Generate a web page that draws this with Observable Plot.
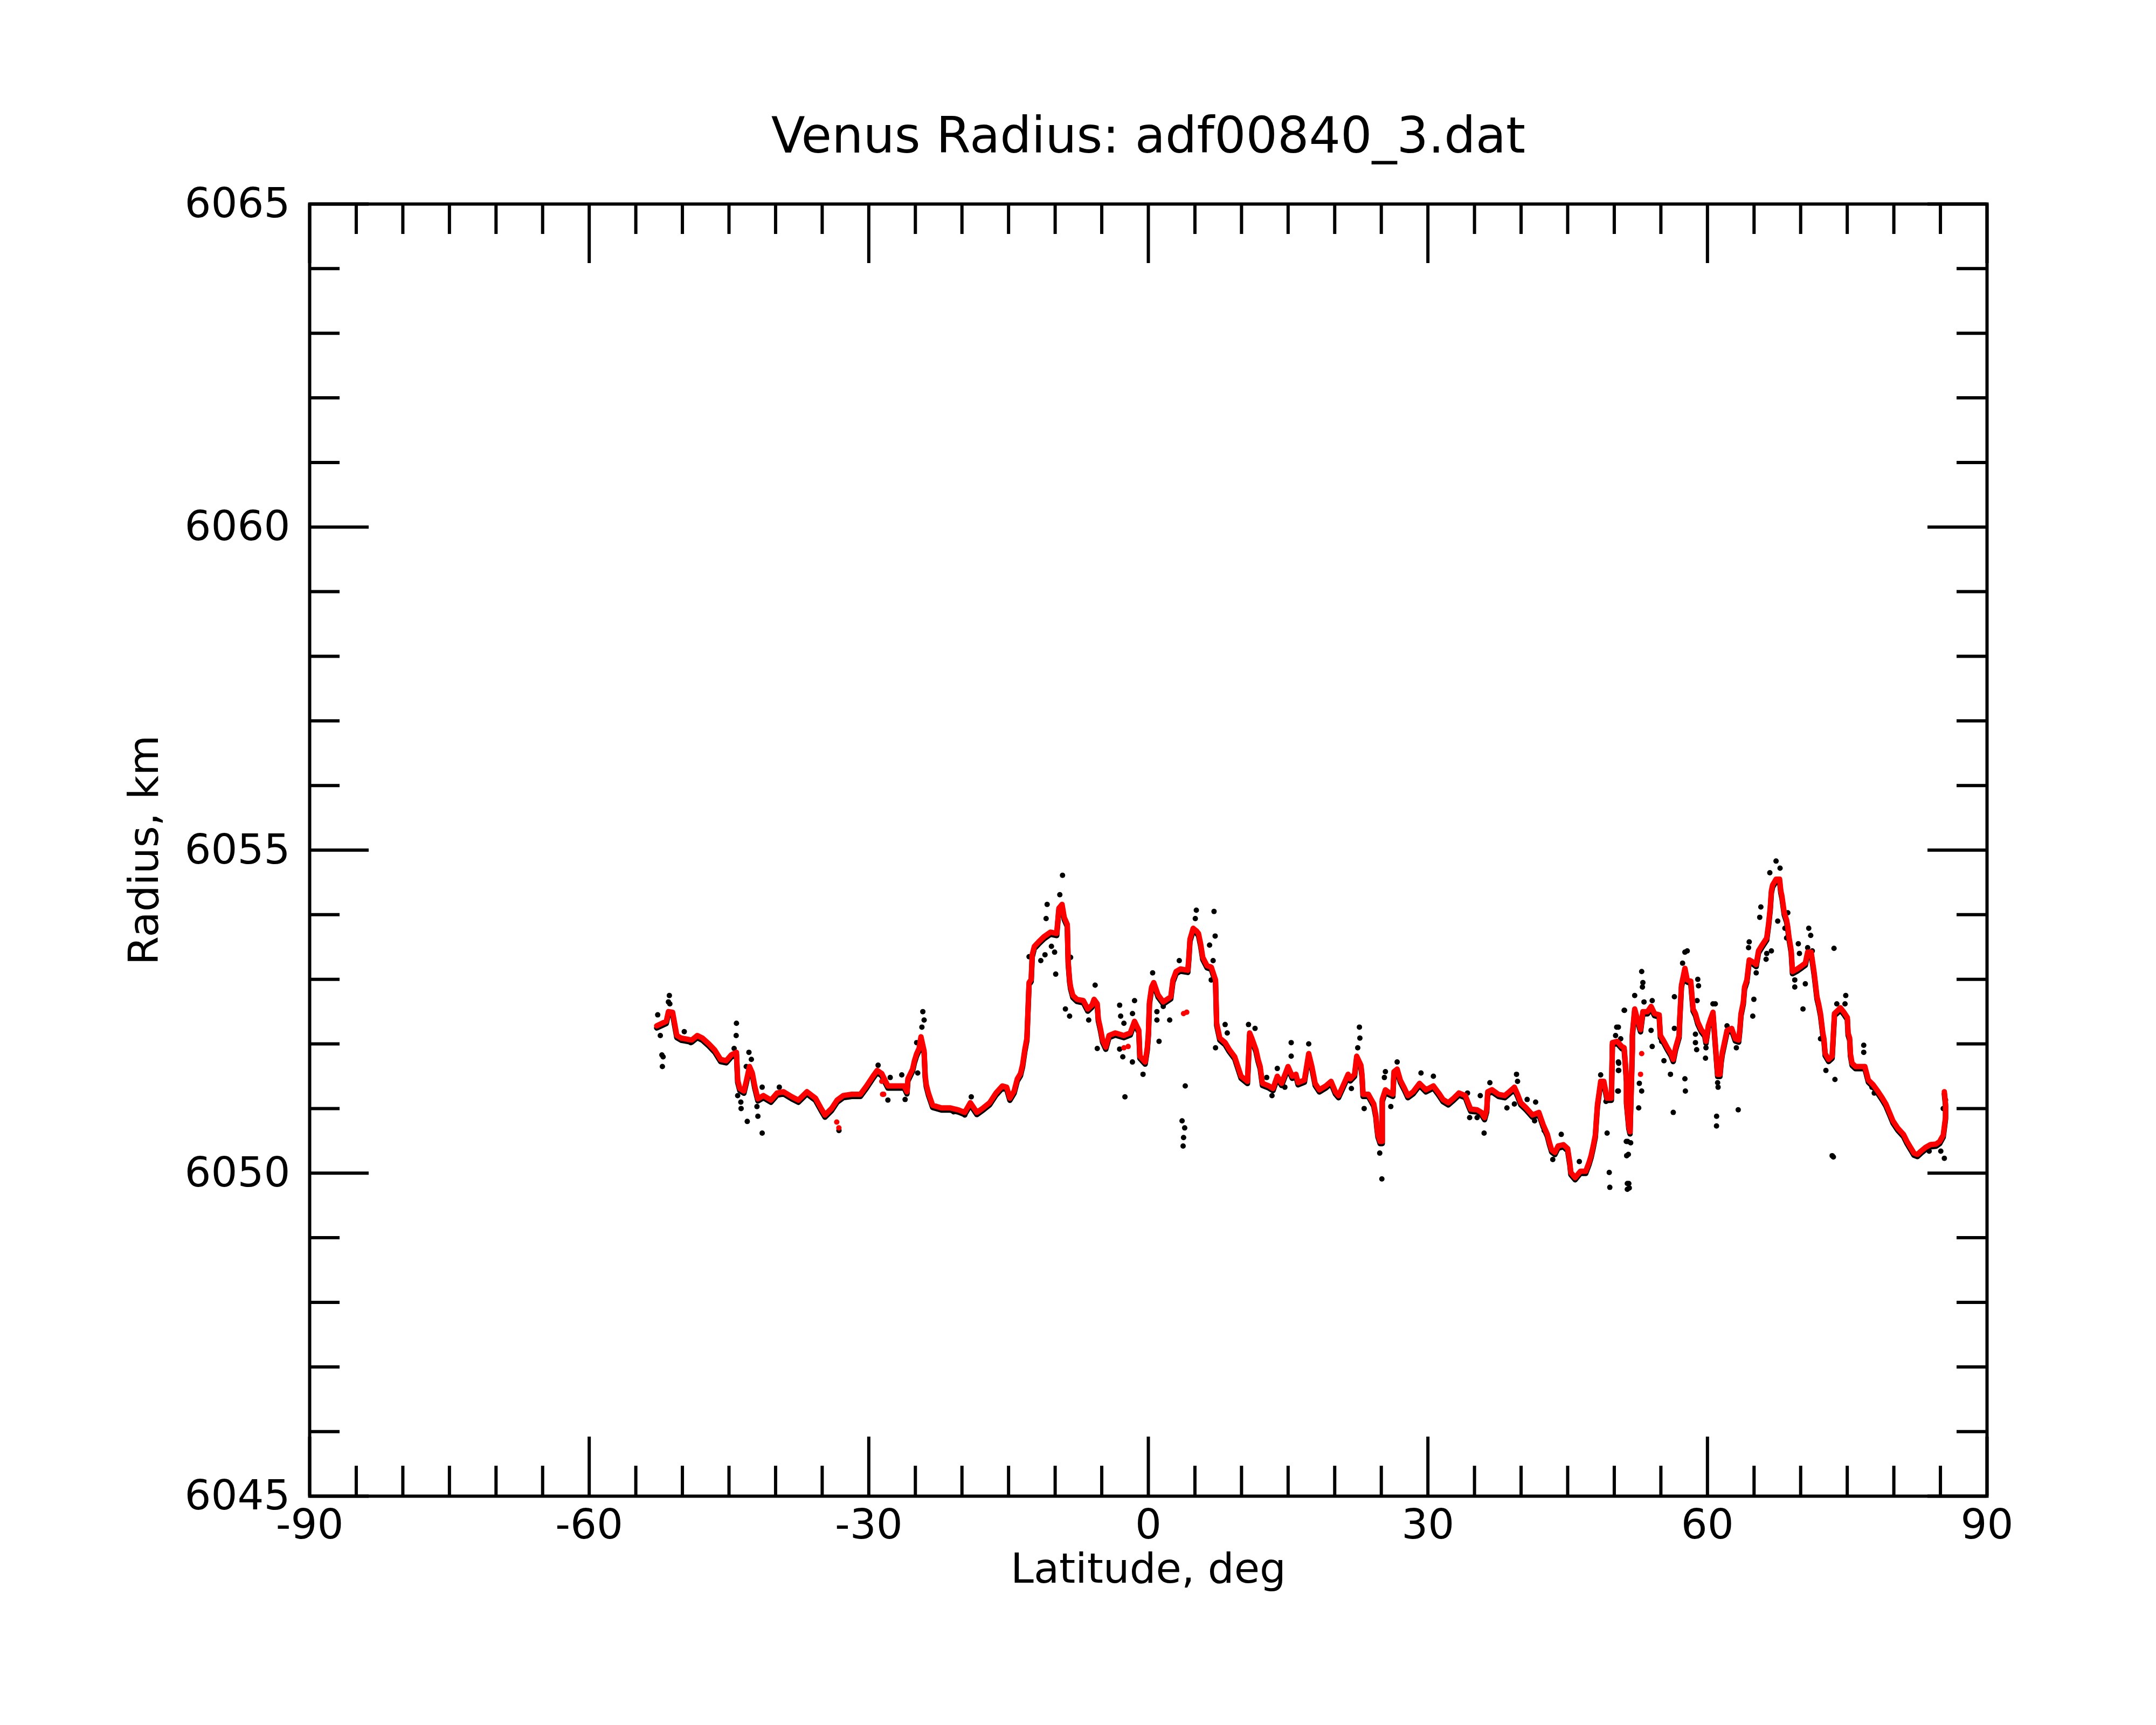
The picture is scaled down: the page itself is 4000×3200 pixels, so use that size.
<!DOCTYPE html>
<html>
<head>
<meta charset="utf-8">
<script src="https://cdn.jsdelivr.net/npm/d3@7"></script>
<script src="https://cdn.jsdelivr.net/npm/@observablehq/plot@0.6"></script>
<style>
  html, body { margin: 0; padding: 0; background: white; }
</style>
</head>
<body>
<div id="chart"></div>
<script>
const titleText = "Venus Radius: adf00840_3.dat";
const xLabel = "Latitude, deg";
const yLabel = "Radius, km";
const xMajor = [-90, -60, -30, 0, 30, 60, 90];
const xMinor = [-85,-80,-75,-70,-65,-55,-50,-45,-40,-35,-25,-20,-15,-10,-5,5,10,15,20,25,35,40,45,50,55,65,70,75,80,85];
const yMajor = [6045, 6050, 6055, 6060, 6065];
const yMinor = [6046,6047,6048,6049,6051,6052,6053,6054,6056,6057,6058,6059,6061,6062,6063,6064];

// smoothed radius (red)
const redLat = [-52.76,-51.73,-51.5,-51.05,-50.6,-50.13,-49.0,-48.4,-47.85,-47.16,-46.5,-45.9,-45.3,-44.76,-44.2,
-44.07,-43.84,-43.4,-43.15,-42.8,-42.5,-42.24,-41.9,-41.3,-40.5,-39.84,-39.15,-38.24,-37.55,-36.64,-35.72,-35.15,-34.7,-34.0,-33.4,-32.75,-31.83,-30.9,-30.24,-29.55,-29.1,-28.6,-27.95,-27.0,-26.2,-25.9,-25.8,-25.3,-25.1,-24.86,-24.6,-24.4,-24.06,-23.95,-23.83,-23.6,-23.15,-22.2,-21.3,-20.4,-19.7,-19.1,
-18.4,-17.72,-17.03,-16.35,-15.66,-15.2,-14.86,-14.4,-14.06,-13.72,-13.49,-13.26,-13.03,-12.8,-12.57,-12.46,-12.23,-11.77,-11.2,-10.5,-9.83,-9.78,-9.6,-9.26,-9.03,-8.7,-8.6,-8.45,-8.34,-8.1,-7.66,-6.97,-6.5,-6.05,-5.82,-5.48,-5.37,-5.14,-4.91,-4.57,-4.22,-3.54,-2.62,-1.94,-1.48,-1.02,-0.91,-0.34,-0.11,0.01,0.12,0.35,0.58,1.04,1.6,2.41,2.64,2.98,3.44,4.24,4.35,4.47,4.81,5.15,5.38,5.61,5.84,6.3,6.75,7.21,7.33,7.67,8.24,8.7,9.27,9.61,9.95,10.64,10.87,11.1,11.55,11.78,12.0,12.24,12.93,13.38,13.84,14.3,14.99,15.44,
15.84,16.07,16.75,17.21,17.55,17.9,18.35,19.04,19.61,20.07,20.41,20.76,21.44,21.67,22.13,22.36,22.81,22.93,23.04,23.61,24.19,24.41,24.53,24.64,24.87,25.1,25.1,25.44,25.8,26.24,26.36,26.7,27.04,27.5,27.85,28.42,29.1,29.79,30.59,31.16,31.62,32.19,32.76,33.33,34.02,34.36,34.59,35.28,35.74,36.08,36.31,36.42,36.88,37.57,38.25,38.82,39.28,39.62,39.97,40.54,41.22,41.91,42.37,42.82,43.05,43.28,43.63,43.97,44.54,45.0,45.11,45.23,45.34,45.8,46.37,46.94,47.28,47.51,47.74,47.97,48.08,48.2,48.31,48.54,48.88,49.23,49.69,49.8,50.31,50.81,51.06,51.19,51.31,51.31,51.56,51.69,51.94,51.94,52.19,52.57,52.82,53.07,53.57,53.95,54.32,54.82,54.95,55.33,55.7,56.08,56.33,56.58,56.96,57.03,57.21,57.58,57.83,58.21,58.33,58.46,58.71,58.96,59.34,59.71,59.84,60.09,60.34,60.59,61.09,61.34,61.47,61.6,61.85,62.1,62.6,62.98,63.35,63.48,63.6,63.85,63.98,64.23,64.48,64.86,65.23,65.48,65.86,66.36,66.56,66.74,66.86,66.99,67.36,67.74,67.87,67.99,68.24,68.49,68.62,68.74,68.87,68.99,69.12,69.62,70.12,70.5,70.75,71.13,71.45,71.63,71.75,71.93,72.13,72.38,72.5,72.63,73.0,73.38,73.63,74.0,74.26,74.64,75.01,75.09,75.26,75.34,75.52,75.89,76.39,76.89,77.27,77.77,78.27,78.78,79.15,79.53,79.9,80.4,81.03,81.41,81.78,82.16,82.53,82.91,83.41,83.92,84.54,84.92,85.3,85.42,85.55,85.55,85.42];
const redRad = [6052.28,6052.35,6052.50,6052.49,6052.13,6052.09,6052.06,6052.13,6052.09,6052.00,6051.90,6051.76,6051.74,6051.83,6051.87,
6051.44,6051.31,6051.27,6051.42,6051.65,6051.55,6051.35,6051.15,6051.20,6051.13,6051.24,6051.26,6051.18,6051.13,6051.26,6051.16,6051.01,6050.90,6051.00,6051.13,6051.20,6051.22,6051.22,6051.35,6051.50,6051.59,6051.54,6051.35,6051.35,6051.35,6051.26,6051.46,6051.61,6051.74,6051.85,6051.93,6052.11,6051.89,6051.52,6051.37,6051.24,6051.05,6051.01,6051.01,6050.98,6050.94,6051.09,
6050.94,6051.01,6051.09,6051.24,6051.35,6051.33,6051.16,6051.27,6051.46,6051.54,6051.68,6051.91,6052.09,6052.95,6053.00,6053.38,6053.51,6053.58,6053.66,6053.73,6053.71,6053.80,6054.10,6054.16,6053.96,6053.85,6053.27,6052.99,6052.88,6052.75,6052.69,6052.67,6052.54,6052.60,6052.69,6052.62,6052.39,6052.24,6052.06,6051.95,6052.13,6052.17,6052.13,6052.17,6052.35,6052.21,6051.81,6051.72,6051.94,6052.17,6052.65,6052.88,6052.95,6052.76,6052.65,6052.73,6052.99,6053.12,6053.16,6053.14,6053.34,6053.62,6053.79,6053.75,6053.71,6053.55,6053.34,6053.21,6053.19,6052.99,6052.32,6052.09,6052.02,6051.91,6051.80,6051.65,6051.50,6051.42,6052.17,6052.09,6051.91,6051.76,6051.65,6051.39,6051.35,6051.31,6051.50,6051.39,6051.65,6051.50,
6051.53,6051.40,6051.44,6051.85,6051.65,6051.39,6051.29,6051.35,6051.42,6051.26,6051.20,6051.31,6051.53,6051.46,6051.53,6051.81,6051.67,6051.52,6051.22,6051.22,6051.07,6050.90,6050.72,6050.59,6050.49,6050.49,6051.14,6051.29,6051.25,6051.22,6051.57,6051.61,6051.44,6051.31,6051.20,6051.26,6051.39,6051.29,6051.35,6051.24,6051.14,6051.09,6051.16,6051.24,6051.20,6051.07,6050.99,6050.98,6050.94,6050.86,6050.98,6051.26,6051.29,6051.22,6051.20,6051.27,6051.33,6051.22,6051.09,6051.01,6050.90,6050.94,6050.75,6050.60,6050.47,6050.36,6050.32,6050.42,6050.44,6050.38,6050.27,6050.16,6050.01,6049.93,6050.03,6050.03,6050.16,6050.27,6050.42,6050.59,6050.83,6051.07,6051.18,6051.42,6051.42,6051.16,6051.16,6052.02,6052.04,6051.96,6051.94,6051.70,6051.44,6051.11,6050.72,6050.64,6051.94,6052.15,6052.54,6052.34,6052.22,6052.50,6052.50,6052.58,6052.47,6052.45,6052.13,6052.04,6051.94,6051.85,6051.76,6051.94,6052.13,6052.41,6052.91,6053.17,6052.99,6052.97,6052.76,6052.54,6052.47,6052.34,6052.22,6052.15,6052.04,6052.28,6052.39,6052.49,6051.53,6051.53,6051.74,6051.87,6052.04,6052.21,6052.24,6052.08,6052.06,6052.24,6052.47,6052.65,6052.88,6052.99,6053.30,6053.27,6053.23,6053.44,6053.53,6053.64,6053.86,6054.11,6054.37,6054.46,6054.55,6054.55,6054.37,6054.29,6054.03,6053.92,6053.81,6053.66,6053.55,6053.44,6053.12,6053.16,6053.21,6053.25,6053.42,6053.42,6053.10,6052.88,6052.73,6052.62,6052.47,6052.17,6052.08,6051.85,6051.76,6051.81,6052.47,6052.52,6052.56,6052.49,6052.41,6052.17,6052.09,6051.85,6051.70,6051.65,6051.65,6051.65,6051.44,6051.37,6051.27,6051.16,6051.07,6050.94,6050.81,6050.70,6050.60,6050.49,6050.40,6050.31,6050.29,6050.34,6050.40,6050.44,6050.45,6050.49,6050.59,6050.72,6050.87,6051.07,6051.26];

// isolated smoothed points (red)
const redExtraLat = [-33.44,-33.21,-28.6,-28.52,-28.4,-2.62,-2.17,3.78,4.12,52.82,52.94];
const redExtraRad = [6050.79,6050.70,6051.42,6051.22,6051.22,6051.94,6051.96,6052.47,6052.49,6051.53,6051.85];

// raw radius points away from the smoothed curve (black)
const rawLat = [-52.65,-52.37,-52.2,-52.07,-52.15,-51.4,-51.5,-51.35,-49.8,-49.1,-44.2,-44.23,-44.45,-44.07,-43.73,-43.7,-43.04,-42.86,-42.6,-43.15,-42.0,-41.9,-41.44,-41.44,-39.6,-33.2,-29.0,-27.95,-27.7,-26.46,-26.1,-24.86,-24.75,-24.2,-24.06,-24.3,-19.0,-19.7,-20.9,
-9.21,-9.5,-10.86,-10.97,-11.09,-11.54,-12.8,-10.4,-10.06,-9.94,-8.9,-8.45,-8.34,-5.71,-6.4,-5.48,-3.08,-1.48,-1.7,-2.97,-2.62,-2.74,-3.08,-1.71,-2.51,-0.57,0.46,0.92,0.92,2.29,1.6,1.15,3.32,5.15,5.04,7.05,7.17,6.57,6.95,6.75,3.96,3.62,3.9,3.78,3.73,8.24,8.47,7.21,10.75,11.45,12.7,13.27,13.84,14.65,15.33,15.33,
17.21,22.65,22.7,22.47,21.79,23.16,24.83,25.06,25.44,25.33,26.02,26.7,29.26,30.59,34.25,34.48,35.28,36.03,35.62,36.65,38.48,39.51,39.62,39.28,40.65,41.56,41.45,42.48,44.31,43.4,46.25,48.54,49.11,49.23,49.46,49.52,51.1,50.26,50.14,50.48,50.48,50.37,51.29,51.33,51.4,51.4,
51.06,50.44,50.69,50.44,50.44,50.44,51.44,51.76,51.51,51.56,51.61,52.19,52.94,53.07,53.02,53.19,54.07,53.95,54.07,52.69,52.94,52.62,55.08,55.33,56.03,56.33,56.45,56.45,57.58,57.63,57.83,57.58,57.33,58.96,59.04,58.89,58.71,58.71,58.84,59.84,59.79,60.59,60.84,61.09,61.14,60.98,60.97,62.1,63.1,63.3,64.41,64.48,65.23,64.98,64.86,65.73,65.61,66.36,66.86,66.29,66.69,67.36,67.79,67.54,68.31,68.62,68.49,69.37,69.37,69.75,69.87,70.5,70.25,70.87,71.08,71.25,70.75,73.58,72.13,72.71,73.68,73.38,73.51,74.84,73.88,74.76,76.77,76.77,77.65,77.9,83.79,85.04,85.42,85.55,85.3,84.04];
const rawRad = [6052.45,6052.13,6051.83,6051.80,6051.65,6052.75,6052.65,6052.62,6052.19,6052.02,6052.32,6052.13,6051.93,6051.20,6051.10,6051.00,6050.80,6051.87,6051.76,6051.65,6051.03,6050.88,6050.62,6051.33,6051.33,6050.66,6051.67,6051.13,6051.48,6051.52,6051.14,6052.02,6051.55,6052.50,6052.37,6052.26,6051.18,6050.90,6050.95,
6054.61,6054.31,6054.16,6053.94,6053.38,6053.29,6053.35,6053.51,6053.42,6053.08,6052.54,6052.43,6053.34,6052.91,6052.37,6051.93,6052.60,6052.67,6052.47,6052.43,6052.32,6051.80,6051.92,6051.72,6051.18,6051.53,6053.10,6052.50,6052.37,6052.37,6052.58,6052.04,6053.29,6054.07,6053.94,6054.05,6053.67,6053.53,6053.29,6052.99,6051.35,6050.81,6050.70,6050.55,6050.42,6052.30,6052.17,6051.94,6052.30,6052.24,6051.48,6051.20,6051.62,6051.33,6052.02,6051.81,
6052.00,6052.26,6052.09,6051.94,6051.31,6051.00,6050.31,6049.91,6051.57,6051.48,6051.03,6051.72,6051.55,6051.50,6051.24,6050.86,6050.86,6050.62,6051.20,6051.40,6051.01,6051.53,6051.42,6051.07,6051.14,6051.10,6050.81,6050.66,6050.60,6050.21,6050.18,6051.52,6051.11,6050.62,6050.01,6049.78,6052.52,6052.26,6052.13,6051.70,6051.59,6051.27,6050.49,6050.27,6049.84,6049.75,
6052.52,6052.26,6052.08,6051.72,6051.59,6051.27,6050.49,6050.47,6050.29,6049.84,6049.77,6052.75,6053.12,6052.95,6052.88,6052.65,6052.67,6052.21,6051.96,6051.39,6051.27,6051.01,6052.04,6051.74,6051.53,6050.94,6052.73,6052.24,6051.46,6051.27,6053.44,6053.42,6053.25,6053.00,6052.90,6052.67,6052.15,6052.02,6051.91,6051.94,6051.78,6052.62,6052.62,6051.40,6051.33,6050.88,6050.73,6052.28,6051.94,6050.98,6053.49,6053.58,6053.10,6052.69,6052.43,6054.12,6053.96,6053.40,6053.44,6053.31,6054.65,6054.83,6054.72,6053.90,6053.79,6054.03,6053.64,6052.99,6052.88,6053.55,6053.40,6052.93,6052.54,6053.79,6053.68,6053.44,6053.49,6053.48,6052.08,6051.59,6051.45,6050.27,6050.25,6052.75,6052.62,6052.62,6051.98,6051.87,6051.33,6051.24,6050.34,6050.34,6050.23,6051.13,6051.00,6050.44];

const red = redLat.map((lat, i) => ({lat, r: redRad[i]}));
const redExtra = redExtraLat.map((lat, i) => ({lat, r: redExtraRad[i]}));
const raw = rawLat.map((lat, i) => ({lat, r: rawRad[i]}));

const W = 4000, Hh = 3200;
const mL = 574, mR = 314, mT = 378, mB = 425;
const fw = W - mL - mR, fh = Hh - mT - mB;
const majLen = 110, minLen = 56, tw = 6;

const chart = Plot.plot({
  width: W, height: Hh,
  marginLeft: mL, marginRight: mR, marginTop: mT, marginBottom: mB,
  x: {domain: [-90, 90]},
  y: {domain: [6045, 6065]},
  style: {fontFamily: "'DejaVu Sans', sans-serif", background: "white", color: "black"},
  marks: [
    Plot.dot(raw, {x: "lat", y: "r", r: 5, fill: "black", stroke: null}),
    Plot.line(red, {x: "lat", y: "r", stroke: "black", strokeWidth: 10, dy: 4, strokeLinecap: "round", strokeLinejoin: "round"}),
    Plot.line(red, {x: "lat", y: "r", stroke: "#ff0000", strokeWidth: 10, strokeLinecap: "round", strokeLinejoin: "round"}),
    Plot.dot(redExtra, {x: "lat", y: "r", r: 5, fill: "#ff0000", stroke: null}),
    // ticks (inward, all four sides)
    Plot.ruleX(xMajor, {insetBottom: fh - majLen, stroke: "black", strokeWidth: tw}),
    Plot.ruleX(xMajor, {insetTop: fh - majLen, stroke: "black", strokeWidth: tw}),
    Plot.ruleX(xMinor, {insetBottom: fh - minLen, stroke: "black", strokeWidth: tw}),
    Plot.ruleX(xMinor, {insetTop: fh - minLen, stroke: "black", strokeWidth: tw}),
    Plot.ruleY(yMajor, {insetRight: fw - majLen, stroke: "black", strokeWidth: tw}),
    Plot.ruleY(yMajor, {insetLeft: fw - majLen, stroke: "black", strokeWidth: tw}),
    Plot.ruleY(yMinor, {insetRight: fw - minLen, stroke: "black", strokeWidth: tw}),
    Plot.ruleY(yMinor, {insetLeft: fw - minLen, stroke: "black", strokeWidth: tw}),
    Plot.frame({stroke: "black", strokeWidth: tw}),
    Plot.axisX(xMajor, {anchor: "bottom", tickSize: 0, tickPadding: 24, fontSize: 77, tickFormat: d => String(d), label: null}),
    Plot.axisY(yMajor, {anchor: "left", tickSize: 0, tickPadding: 36, fontSize: 77, tickFormat: d => String(d), label: null}),
    Plot.text([titleText], {frameAnchor: "top", lineAnchor: "bottom", textAnchor: "middle", dy: -96, fontSize: 92, fill: "black"}),
    Plot.text([xLabel], {frameAnchor: "bottom", lineAnchor: "bottom", textAnchor: "middle", dy: 160, fontSize: 77, fill: "black"}),
    Plot.text([yLabel], {frameAnchor: "left", lineAnchor: "bottom", textAnchor: "middle", rotate: -90, dx: -282, fontSize: 77, fill: "black"})
  ]
});
document.getElementById("chart").appendChild(chart);
</script>
</body>
</html>
